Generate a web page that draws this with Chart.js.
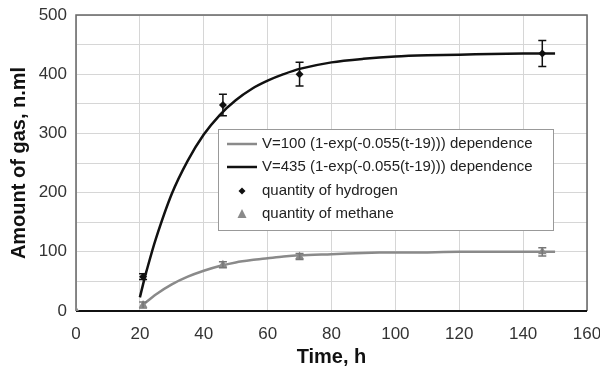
<!DOCTYPE html>
<html><head><meta charset="utf-8">
<script src="https://cdn.jsdelivr.net/npm/chart.js@4/dist/chart.umd.min.js"></script>
<style>html,body{margin:0;padding:0;background:#fff}#wrap{position:relative;width:600px;height:371px}</style>
</head><body><div id="wrap"><canvas id="c" width="600" height="371"></canvas></div>
<script>
// ---- data ----
const fitTimeH2 = [20,21,22,25,30,35,40,45,50,55,60,65,70,80,90,100,110,120,130,140,150];
const fitH2     = [23,45,66,122,198,254,298,331,356,375,389,400,409,420,426,430,432,433,434,435,435];
const fitTimeCH4 = [21,22,25,30,35,40,45,50,55,60,65,70,80,90,100,110,120,130,140,150];
const fitCH4     = [10,15,28,45,58,68,76,82,86,89,92,94,96,98,99,99,100,100,100,100];
const h2Time  = [21,46,70,146];
const h2Vals  = [58,348,400,435];
const h2Err   = [5,18,20,22];
const ch4Time = [0,21,46,70,146];
const ch4Vals = [0,10,78,92,100];
const ch4Err  = [0,5,5,5,7];
const xTicks = [0,20,40,60,80,100,120,140,160];
const yTicks = [0,100,200,300,400,500];
const legendLabels = [
  'V=100 (1-exp(-0.055(t-19))) dependence',
  'V=435 (1-exp(-0.055(t-19))) dependence',
  'quantity of hydrogen',
  'quantity of methane'
];

const pts = (xs, ys) => xs.map((x,i)=>({x:x,y:ys[i]}));
const FONT = "'Liberation Sans', Arial, sans-serif";
const GRAY = '#8a8a8a';

const errorBars = {
  id:'errorBars',
  afterDatasetsDraw(chart){
    const ctx = chart.ctx, xs = chart.scales.x, ys = chart.scales.y;
    chart.data.datasets.forEach((ds)=>{
      if(!ds.errors) return;
      ctx.save();
      ctx.strokeStyle = ds.errColor; ctx.lineWidth = 1.5;
      ds.data.forEach((p,i)=>{
        const e = ds.errors[i]; if(!e) return;
        const px = xs.getPixelForValue(p.x);
        const yt = ys.getPixelForValue(p.y+e), yb = ys.getPixelForValue(p.y-e);
        ctx.beginPath();
        ctx.moveTo(px,yt); ctx.lineTo(px,yb);
        ctx.moveTo(px-4,yt); ctx.lineTo(px+4,yt);
        ctx.moveTo(px-4,yb); ctx.lineTo(px+4,yb);
        ctx.stroke();
      });
      ctx.restore();
    });
  }
};

const frameAndLegend = {
  id:'frameAndLegend',
  beforeDatasetsDraw(chart){
    const ctx = chart.ctx, a = chart.chartArea;
    ctx.save();
    // frame
    ctx.strokeStyle = '#666'; ctx.lineWidth = 1.5;
    ctx.beginPath();
    ctx.moveTo(a.left, a.bottom); ctx.lineTo(a.left, a.top); ctx.lineTo(a.right, a.top); ctx.lineTo(a.right, a.bottom);
    ctx.stroke();
    ctx.strokeStyle = '#111'; ctx.lineWidth = 2;
    ctx.beginPath(); ctx.moveTo(a.left, a.bottom); ctx.lineTo(a.right, a.bottom); ctx.stroke();
    // legend box
    const bx = 218, by = 129, bw = 335, bh = 101;
    ctx.fillStyle = '#fff'; ctx.fillRect(bx, by, bw, bh);
    ctx.strokeStyle = '#999'; ctx.lineWidth = 1;
    ctx.strokeRect(bx+0.5, by+0.5, bw, bh);
    const rowY = [144, 167, 191, 214];
    ctx.font = '15px ' + FONT; ctx.fillStyle = '#222'; ctx.textBaseline = 'middle';
    legendLabels.forEach((t,i)=>{ ctx.fillText(t, 262, rowY[i]); });
    // samples
    ctx.lineWidth = 2.5;
    ctx.strokeStyle = GRAY; ctx.beginPath(); ctx.moveTo(227,rowY[0]); ctx.lineTo(257,rowY[0]); ctx.stroke();
    ctx.strokeStyle = '#111'; ctx.beginPath(); ctx.moveTo(227,rowY[1]); ctx.lineTo(257,rowY[1]); ctx.stroke();
    ctx.fillStyle = '#111'; ctx.beginPath();
    ctx.moveTo(242,rowY[2]-3.5); ctx.lineTo(245.5,rowY[2]); ctx.lineTo(242,rowY[2]+3.5); ctx.lineTo(238.5,rowY[2]); ctx.closePath(); ctx.fill();
    ctx.fillStyle = GRAY; ctx.beginPath();
    ctx.moveTo(242,rowY[3]-5); ctx.lineTo(246.5,rowY[3]+4); ctx.lineTo(237.5,rowY[3]+4); ctx.closePath(); ctx.fill();
    ctx.restore();
  }
};

new Chart(document.getElementById('c'), {
  type:'scatter',
  data:{ datasets:[
    { label:legendLabels[0], data:pts(fitTimeCH4, fitCH4), showLine:true, borderColor:GRAY, borderWidth:2.5, pointRadius:0, tension:0.3 },
    { label:legendLabels[1], data:pts(fitTimeH2, fitH2), showLine:true, borderColor:'#111', borderWidth:2.5, pointRadius:0, tension:0.3 },
    { label:legendLabels[2], data:pts(h2Time, h2Vals), errors:h2Err, errColor:'#111', pointStyle:'rectRot', pointRadius:4, backgroundColor:'#111', borderColor:'#111', borderWidth:0 },
    { label:legendLabels[3], data:pts(ch4Time, ch4Vals), errors:ch4Err, errColor:'#777', pointStyle:'triangle', pointRadius:5, backgroundColor:GRAY, borderColor:GRAY, borderWidth:0 }
  ]},
  options:{
    responsive:false, animation:false,
    layout:{ padding:{ top:15, right:13, left:0, bottom:0 } },
    plugins:{ legend:{display:false}, tooltip:{enabled:false} },
    scales:{
      x:{ type:'linear', min:0, max:160,
        afterBuildTicks:(s)=>{ s.ticks = xTicks.map(v=>({value:v})); },
        afterFit:(s)=>{ s.height = 60; s.paddingLeft = 0; s.paddingRight = 0; },
        grid:{ color:'#d6d6d6', lineWidth:1, drawTicks:false },
        border:{ display:false },
        ticks:{ color:'#333', font:{ family:FONT, size:17 }, padding:13 },
        title:{ display:true, text:'Time, h', color:'#111', font:{ family:FONT, size:20, weight:'bold' }, padding:{top:0,bottom:2} }
      },
      y:{ min:0, max:500,
        ticks:{ stepSize:50, color:'#333', font:{ family:FONT, size:17 }, padding:9,
          callback:(v)=> yTicks.includes(v) ? String(v) : '' },
        afterFit:(s)=>{ s.width = 76; s.paddingTop = 0; s.paddingBottom = 0; },
        grid:{ color:'#d6d6d6', lineWidth:1, drawTicks:false },
        border:{ display:false },
        title:{ display:true, text:'Amount of gas, n.ml', color:'#111', font:{ family:FONT, size:20, weight:'bold' }, padding:{top:7,bottom:0} }
      }
    }
  },
  plugins:[frameAndLegend, errorBars]
});
</script></body></html>
